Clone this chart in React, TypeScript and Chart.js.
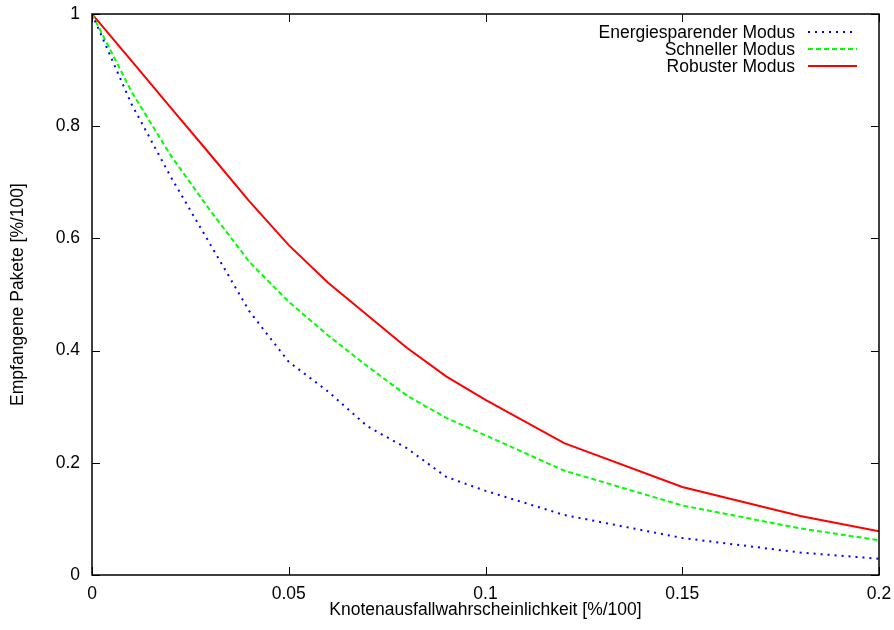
import { useEffect, useRef } from "react";
import { Chart, registerables } from "chart.js";

Chart.register(...registerables);

// ---- data ----
const failureProb = [0, 0.01, 0.02, 0.03, 0.04, 0.05, 0.06, 0.07, 0.08, 0.09, 0.1, 0.12, 0.15, 0.18, 0.2];
const energySaving = [1, 0.84, 0.71, 0.59, 0.47, 0.38, 0.327, 0.265, 0.226, 0.175, 0.15, 0.107, 0.066, 0.04, 0.029];
const fastMode = [1, 0.862, 0.748, 0.65, 0.558, 0.487, 0.427, 0.372, 0.32, 0.28, 0.249, 0.186, 0.124, 0.083, 0.062];
const robustMode = [1, 0.917, 0.833, 0.75, 0.666, 0.588, 0.521, 0.463, 0.405, 0.354, 0.312, 0.235, 0.157, 0.105, 0.078];
const seriesLabels = ["Energiesparender Modus", "Schneller Modus", "Robuster Modus"];
const xTickValues = [0, 0.05, 0.1, 0.15, 0.2];
const yTickValues = [0, 0.2, 0.4, 0.6, 0.8, 1];
const xTitle = "Knotenausfallwahrscheinlichkeit [%/100]";
const yTitle = "Empfangene Pakete [%/100]";

const FONT = '"Liberation Sans", Arial, Helvetica, sans-serif';
const FS = 17.5;

const framePlugin = {
  id: "gnuplotFrame",
  afterDraw(chart: any) {
    const { ctx, chartArea, scales } = chart;
    const { left, right, top, bottom } = chartArea;
    const xs = scales.x;
    const ys = scales.y;
    const line = (x1: number, y1: number, x2: number, y2: number) => {
      ctx.beginPath();
      ctx.moveTo(x1, y1);
      ctx.lineTo(x2, y2);
      ctx.stroke();
    };
    ctx.save();
    ctx.setLineDash([]);
    ctx.strokeStyle = "#000";
    ctx.lineWidth = 1;
    const L = 8;
    xs.ticks.forEach((t: any) => {
      const px = Math.round(xs.getPixelForValue(t.value)) + 0.5;
      line(px, bottom, px, bottom - L);
      line(px, top, px, top + L);
    });
    ys.ticks.forEach((t: any) => {
      const py = Math.round(ys.getPixelForValue(t.value)) + 0.5;
      line(left, py, left + L, py);
      line(right, py, right - L, py);
    });
    ctx.lineWidth = 1.5;
    ctx.strokeRect(left, top, right - left, bottom - top);

    // gnuplot-style key (text right-aligned, sample to the right)
    ctx.font = `${FS}px ${FONT}`;
    ctx.textAlign = "right";
    ctx.textBaseline = "middle";
    chart.data.datasets.forEach((ds: any, i: number) => {
      const yy = top + 19 + i * 17;
      ctx.fillStyle = "#000";
      ctx.fillText(ds.label, right - 84, yy);
      ctx.strokeStyle = ds.borderColor;
      ctx.lineWidth = ds.borderWidth;
      ctx.setLineDash(ds.borderDash || []);
      line(right - 71, yy - 1, right - 22, yy - 1);
    });
    ctx.restore();
  },
};

export default function App() {
  const canvasRef = useRef<HTMLCanvasElement | null>(null);

  useEffect(() => {
    document.body.style.margin = "0";
    const canvas = canvasRef.current;
    if (!canvas) return;
    const mk = (arr: number[]) => failureProb.map((x, i) => ({ x, y: arr[i] }));
    const chart = new Chart(canvas, {
      type: "line",
      data: {
        datasets: [
          {
            label: seriesLabels[0],
            data: mk(energySaving),
            borderColor: "#0000ff",
            borderWidth: 2,
            borderDash: [2, 5],
            pointRadius: 0,
            tension: 0,
            fill: false,
          },
          {
            label: seriesLabels[1],
            data: mk(fastMode),
            borderColor: "#00ff00",
            borderWidth: 2,
            borderDash: [5, 3],
            pointRadius: 0,
            tension: 0,
            fill: false,
          },
          {
            label: seriesLabels[2],
            data: mk(robustMode),
            borderColor: "#ff0000",
            borderWidth: 2,
            pointRadius: 0,
            tension: 0,
            fill: false,
          },
        ],
      },
      options: {
        animation: false,
        responsive: false,
        maintainAspectRatio: false,
        devicePixelRatio: 1,
        layout: { padding: { left: 0, right: 15, top: 14, bottom: 0 } },
        plugins: {
          legend: { display: false },
          tooltip: { enabled: false },
        },
        font: { family: FONT, size: FS },
        scales: {
          x: {
            type: "linear",
            min: 0,
            max: 0.2,
            afterBuildTicks: (scale: any) => {
              scale.ticks = xTickValues.map((v) => ({ value: v }));
            },
            afterFit: (scale: any) => {
              scale.height = 55;
              scale.paddingLeft = 0;
              scale.paddingRight = 0;
            },
            grid: { display: false, drawTicks: false },
            border: { display: false },
            ticks: {
              color: "#000",
              padding: 9,
              maxRotation: 0,
              font: { family: FONT, size: FS },
              callback: (v: any) => String(v),
            },
            title: {
              display: true,
              text: xTitle,
              color: "#000",
              font: { family: FONT, size: FS },
              padding: { top: 0, bottom: 9 },
            },
          },
          y: {
            type: "linear",
            min: 0,
            max: 1,
            afterBuildTicks: (scale: any) => {
              scale.ticks = yTickValues.map((v) => ({ value: v }));
            },
            afterFit: (scale: any) => {
              scale.width = 92;
              scale.paddingTop = 0;
              scale.paddingBottom = 0;
            },
            grid: { display: false, drawTicks: false },
            border: { display: false },
            ticks: {
              color: "#000",
              padding: 12,
              font: { family: FONT, size: FS },
              callback: (v: any) => String(v),
            },
            title: {
              display: true,
              text: yTitle,
              color: "#000",
              font: { family: FONT, size: FS },
              padding: { top: 8, bottom: 0 },
            },
          },
        },
      },
      plugins: [framePlugin],
    } as any);
    return () => chart.destroy();
  }, []);

  return (
    <div style={{ width: 894, height: 630, background: "#fff" }}>
      <canvas ref={canvasRef} width={894} height={630} style={{ display: "block" }} />
    </div>
  );
}
